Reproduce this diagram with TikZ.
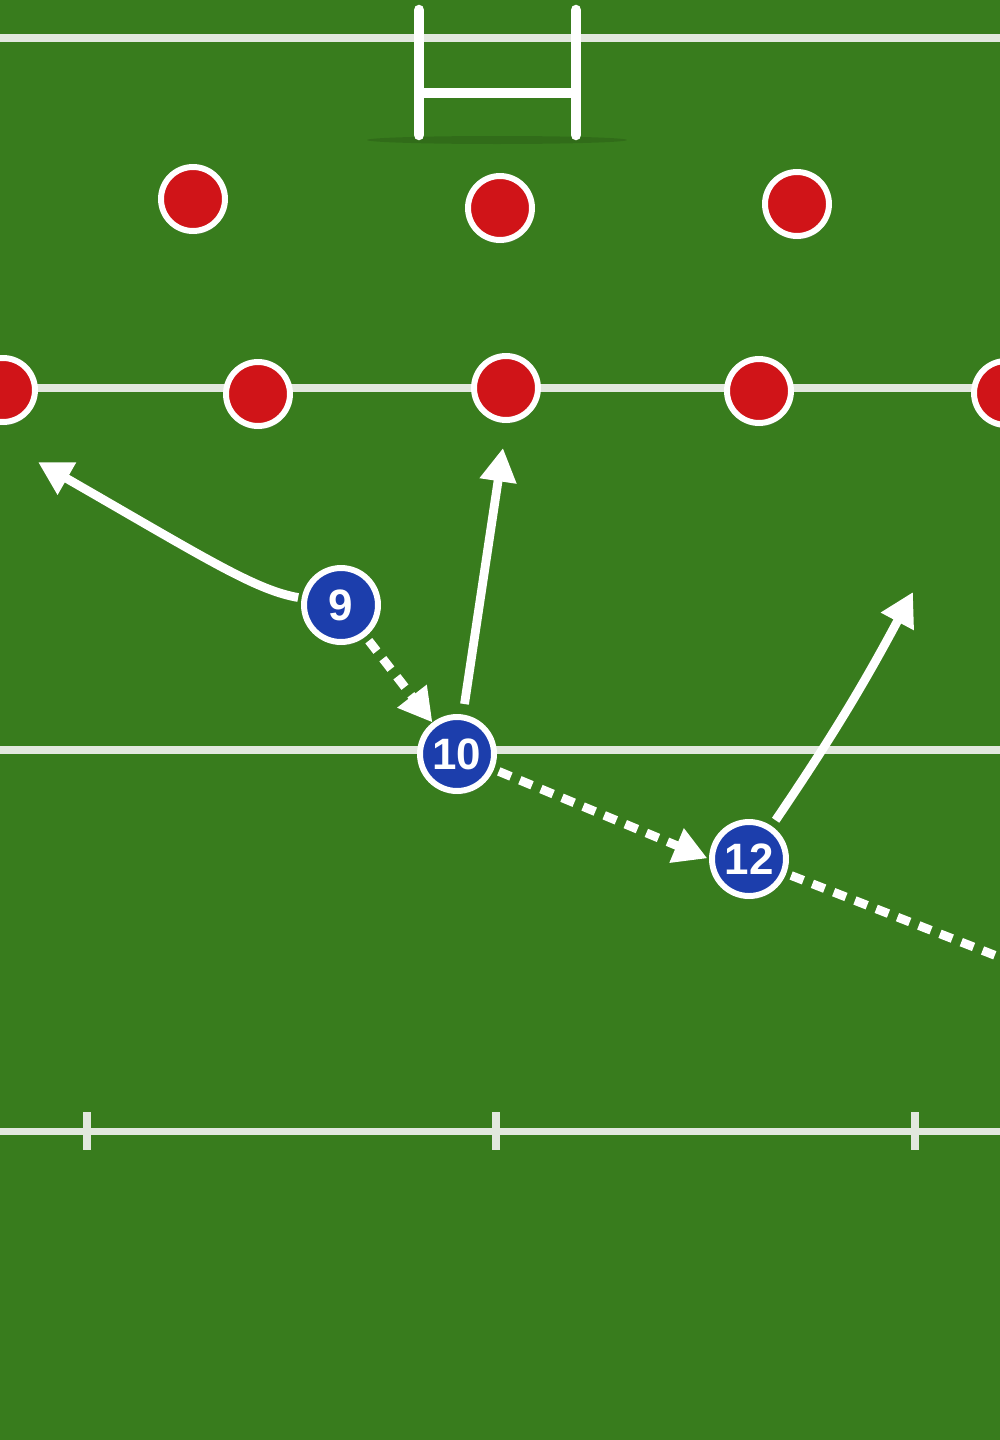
\documentclass[tikz,border=0pt]{standalone}
\usepackage{fontspec}
\setsansfont{Liberation Sans}
\usetikzlibrary{arrows.meta,shadows}
\definecolor{grass}{RGB}{56,124,29}
\definecolor{fieldline}{RGB}{226,232,222}
\definecolor{redp}{RGB}{208,20,24}
\definecolor{bluep}{RGB}{28,62,172}
\tikzset{
  fieldmark/.style={draw=fieldline, line width=4pt},
  post/.style={draw=white, line width=6pt, line cap=round},
  defender/.style={circle, fill=redp, draw=white, line width=3.4pt, minimum size=1.28cm, inner sep=0pt,
    drop shadow={shadow xshift=0.5pt, shadow yshift=-2pt, opacity=0.3}},
  attacker/.style={circle, fill=bluep, draw=white, line width=3.4pt, minimum size=1.48cm, inner sep=0pt,
    text=white, font=\sffamily\bfseries\fontsize{25}{25}\selectfont,
    drop shadow={shadow xshift=0.5pt, shadow yshift=-2pt, opacity=0.3}},
  run/.style={draw=white, line width=5pt, -{Triangle[length=19pt,width=20pt]}},
  pass/.style={draw=white, line width=5pt, dash pattern=on 7.5pt off 5.5pt},
  passarrow/.style={pass, -{Triangle[length=19pt,width=20pt]}},
}
\begin{document}
\begin{tikzpicture}[x=0.02cm,y=-0.02cm]
\fill[grass] (0,0) rectangle (1000,1440);
\useasboundingbox (0,0) rectangle (1000,1440);
% field markings
\draw[fieldmark] (0,38) -- (1000,38);
\draw[fieldmark] (0,388) -- (1000,388);
\draw[fieldmark] (0,750) -- (1000,750);
\draw[fieldmark] (0,1131) -- (1000,1131);
\foreach \tx in {87,496,915} \draw[fieldmark] (\tx,1112) -- (\tx,1150);
% goal posts shadow
\fill[black, opacity=0.12] (497,140) ellipse (130 and 4);
% goal posts
\draw[post] (419,10) -- (419,135);
\draw[post] (576,10) -- (576,135);
\draw[draw=white, line width=6pt] (419,93) -- (576,93);
% defenders
\node[defender] (r1) at (193,199) {};
\node[defender] (r2) at (500,208) {};
\node[defender] (r3) at (797,204) {};
\node[defender] (r4) at (3,390) {};
\node[defender] (r5) at (258,394) {};
\node[defender] (r6) at (506,388) {};
\node[defender] (r7) at (759,391) {};
\node[defender] (r8) at (1006,393) {};
% attackers
\node[attacker] (p9) at (341,605) {9};
\node[attacker] (p10) at (457,754) {10};
\node[attacker] (p12) at (749,859) {12};
% run targets
\coordinate (t9) at (38,462);
\coordinate (t10) at (503,448);
\coordinate (t12) at (913,592);
\coordinate (e12) at (1012,962);
% runs
\draw[run, shorten <=2pt] (p9) .. controls (255,590) and (205,558) .. (t9);
\draw[run, shorten <=6pt] (p10) -- (t10);
\draw[run, shorten <=4pt] (p12) to[bend right=3] (t12);
% passes
\draw[passarrow, shorten <=3pt] (p9) -- (p10);
\draw[passarrow, shorten <=3pt, shorten >=1pt] (p10) -- (p12.west);
\draw[pass, shorten <=3pt] (p12) -- (e12);
\end{tikzpicture}
\end{document}
